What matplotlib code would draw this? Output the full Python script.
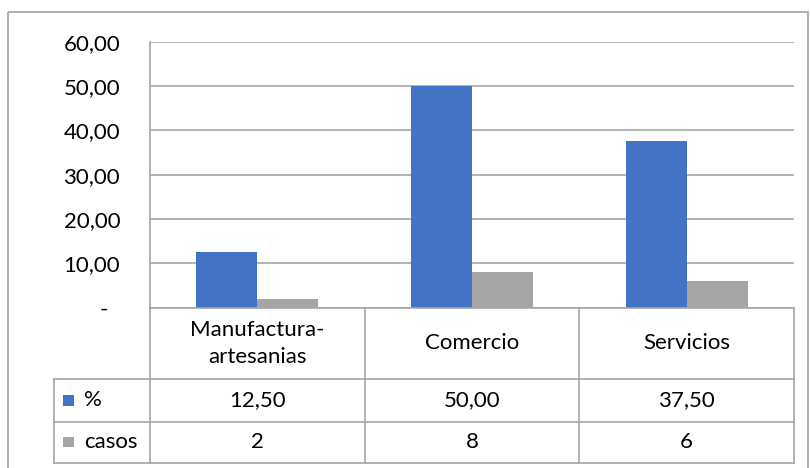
import matplotlib
matplotlib.use("Agg")
import matplotlib.pyplot as plt
from matplotlib.patches import Rectangle

categories = ["Manufactura-\nartesanias", "Comercio", "Servicios"]
series_names = ["%", "casos"]
pct = [12.5, 50.0, 37.5]
casos = [2, 8, 6]
pct_labels = ["12,50", "50,00", "37,50"]
casos_labels = ["2", "8", "6"]
yticks = [0, 10, 20, 30, 40, 50, 60]
ytick_labels = ["-  ", "10,00", "20,00", "30,00", "40,00", "50,00", "60,00"]
colors = ["#4472C4", "#A5A5A5"]

plt.rcParams['font.family'] = ['Lato', 'DejaVu Sans']
FS = 16
GRID = "#A6A6A6"
TXT = "#000000"

W, H = 810, 468
fig = plt.figure(figsize=(8.1, 4.68), dpi=100)

def fx(px):
    return px / W

def fy(py):
    return 1 - py / H

x0, x1 = 150, 794
ytop, ybot = 41.7, 307.5
ax = fig.add_axes([fx(x0), fy(ybot), fx(x1) - fx(x0), fy(ytop) - fy(ybot)])
bw = 0.284
xs = list(range(len(categories)))
ax.bar([x - bw / 2 for x in xs], pct, width=bw, color=colors[0], zorder=3)
ax.bar([x + bw / 2 for x in xs], casos, width=bw, color=colors[1], zorder=3)
ax.set_xlim(-0.5, len(categories) - 0.5)
ax.set_ylim(0, 60)
ax.set_yticks(yticks)
ax.set_yticklabels(ytick_labels, fontsize=FS, color=TXT)
ax.tick_params(axis='y', length=0, pad=21.5)
ax.set_xticks([])
for s in ['top', 'right', 'bottom']:
    ax.spines[s].set_visible(False)
ax.spines['left'].set_color(GRID)
ax.spines['left'].set_linewidth(1.2)
ax.yaxis.grid(True, color=GRID, linewidth=1.2, zorder=0)
ax.set_axisbelow(True)

# overlay for border
ov = fig.add_axes([0, 0, 1, 1], zorder=-1)
ov.set_xlim(0, W)
ov.set_ylim(H, 0)
ov.axis('off')
ov.add_patch(Rectangle((7.5, 11.7), 800, 470, fill=False, edgecolor="#A0A0A0", linewidth=1.2))

# data table
ov2 = fig.add_axes([0, 0, 1, 1], zorder=5)
ov2.set_xlim(0, W)
ov2.set_ylim(H, 0)
ov2.axis('off')
t_top, r1, r2, t_bot = 307.5, 379, 421.7, 462.5
t_left = 54
colw = (x1 - x0) / len(categories)
lkw = dict(color=GRID, linewidth=1.2)
ov2.plot([x0, x1], [t_top, t_top], **lkw)
ov2.plot([t_left, x1], [r1, r1], **lkw)
ov2.plot([t_left, x1], [r2, r2], **lkw)
ov2.plot([t_left, x1], [t_bot, t_bot], **lkw)
ov2.plot([t_left, t_left], [r1, t_bot], **lkw)
for i in range(len(categories) + 1):
    xx = x0 + i * colw
    ov2.plot([xx, xx], [t_top, t_bot], **lkw)

for i, c in enumerate(categories):
    cx = x0 + (i + 0.5) * colw
    ov2.text(cx, (t_top + r1) / 2, c, ha='center', va='center', fontsize=FS,
             color=TXT, linespacing=1.45)
    ov2.text(cx, (r1 + r2) / 2, pct_labels[i], ha='center', va='center', fontsize=FS, color=TXT)
    ov2.text(cx, (r2 + t_bot) / 2, casos_labels[i], ha='center', va='center', fontsize=FS, color=TXT)

for j, (name, col) in enumerate(zip(series_names, colors)):
    top, bot = [(r1, r2), (r2, t_bot)][j]
    cy = (top + bot) / 2
    ov2.add_patch(Rectangle((62.7, cy - 5.25), 11, 10.5, facecolor=col, edgecolor='none'))
    ov2.text(84, cy, name, ha='left', va='center', fontsize=FS, color=TXT)

fig.savefig("out.png", dpi=100)
